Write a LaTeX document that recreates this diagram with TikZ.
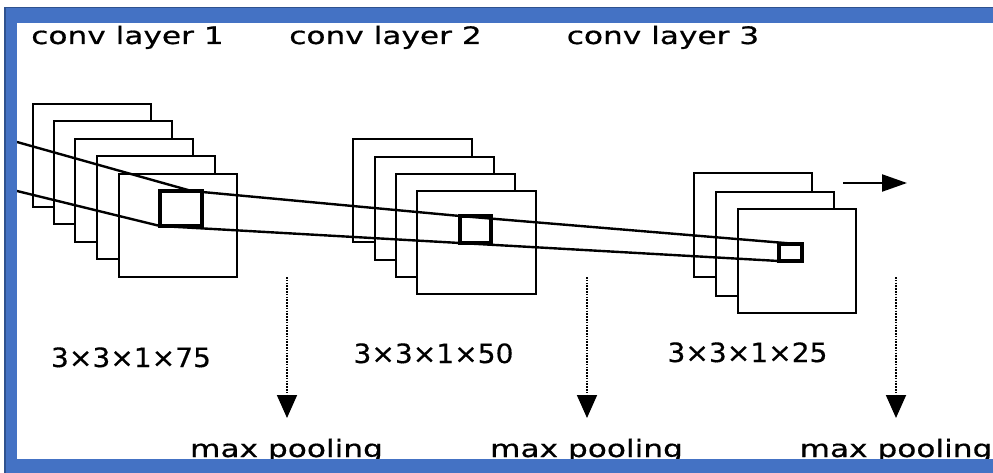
\documentclass[tikz,border=0pt]{standalone}
\usepackage{fontspec}
\setmainfont{DejaVu Sans}
\newfontfamily\widefont[FakeStretch=1.3,FakeBold=0.6]{DejaVu Sans}
\newfontfamily\numfont[FakeStretch=1.06,FakeBold=0.4]{DejaVu Sans}
\usetikzlibrary{arrows.meta,calc}
\definecolor{frameblue}{RGB}{68,114,196}
\definecolor{framedark}{RGB}{47,82,143}
\begin{document}
\begin{tikzpicture}[x=1pt,y=-1pt,
  fmap/.style={draw=black, fill=white, line width=2.5, inner sep=0, outer sep=0, anchor=north west},
  kern/.style={draw=black, line width=3.2, inner sep=0, outer sep=0},
  title/.style={font=\widefont\fontsize{24}{28}\selectfont, anchor=base, inner sep=0},
  dims/.style={font=\numfont\fontsize{26.5}{30}\selectfont, anchor=base, inner sep=0},
  pool/.style={line width=1.8, dash pattern=on 1.5pt off 1.3pt, -{Triangle[length=23pt,width=20pt]}}]
\fill[white] (0,0) rectangle (993,473);
\useasboundingbox (0,0) rectangle (993,473);
% titles
\node [title] (t1) at (127.5,44) {conv layer 1};
\node [title] (t2) at (385.5,44) {conv layer 2};
\node [title] (t3) at (663,44) {conv layer 3};
% conv layer 1
\node [fmap, minimum width=118, minimum height=103] (m11) at (33,104) {};
\node [fmap, minimum width=118, minimum height=103] (m12) at (54,121) {};
\node [fmap, minimum width=118, minimum height=103] (m13) at (75,139) {};
\node [fmap, minimum width=118, minimum height=103] (m14) at (97,156) {};
\node [fmap, minimum width=118, minimum height=103] (m15) at (119,174) {};
\node [kern, minimum width=42, minimum height=35] (k1) at (181,208.5) {};
% conv layer 2
\node [fmap, minimum width=119, minimum height=103] (m21) at (353,139) {};
\node [fmap, minimum width=119, minimum height=103] (m22) at (375,157) {};
\node [fmap, minimum width=119, minimum height=103] (m23) at (396,174) {};
\node [fmap, minimum width=119, minimum height=103] (m24) at (417,191) {};
\node [kern, minimum width=31, minimum height=27] (k2) at (475.5,229.5) {};
% conv layer 3
\node [fmap, minimum width=118, minimum height=104] (m31) at (694,173) {};
\node [fmap, minimum width=118, minimum height=104] (m32) at (716,192) {};
\node [fmap, minimum width=118, minimum height=104] (m33) at (738,209) {};
\node [kern, minimum width=23, minimum height=17] (k3) at (790.5,252.5) {};
% receptive field lines
\coordinate (u0) at (17,142);
\coordinate (l0) at (17,191);
\draw [line width=2.4] (u0) -- ($(k1.north west)!0.75!(k1.north east)$) -- (k2.north west)
  -- ($(k3.north west)!0.78!(k3.north east)$);
\draw [line width=2.4] (l0) -- (k1.south west) -- (k2.south west) -- (k3.south west);
% output arrow
\coordinate (a0) at (843,183);
\coordinate (a1) at (907,183);
\draw [line width=2.2, -{Triangle[length=25pt,width=17pt]}] (a0) -- (a1);
% sizes
\node [dims] (s1) at (131,367) {3×3×1×75};
\node [dims] (s2) at (433.5,363) {3×3×1×50};
\node [dims] (s3) at (747.5,362) {3×3×1×25};
% pooling
\node [title] (p1) at (286.5,457) {max pooling};
\node [title] (p2) at (586.5,457) {max pooling};
\node [title] (p3) at (896,457) {max pooling};
\coordinate (d1) at (287,277);
\coordinate (d2) at (587,277);
\coordinate (d3) at (896,277);
\draw [pool] (d1) -- (d1 |- 0,418);
\draw [pool] (d2) -- (d2 |- 0,418);
\draw [pool] (d3) -- (d3 |- 0,418);
% frame
\fill [frameblue] (4,7) rectangle (993,23);
\fill [frameblue] (4,7) rectangle (17,473);
\fill [frameblue] (4,459) rectangle (993,473);
\draw [framedark, line width=1.5] (993,7.75) -- (4.75,7.75) -- (4.75,473);
\end{tikzpicture}
\end{document}
